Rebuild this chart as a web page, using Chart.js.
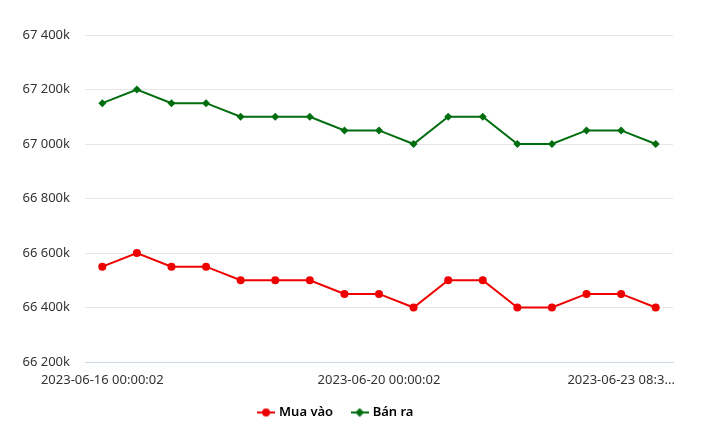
<!DOCTYPE html>
<html>
<head>
<meta charset="utf-8">
<script src="https://cdn.jsdelivr.net/npm/chart.js@4"></script>
<style>
  body { margin: 0; background: #fff; }
  #wrap { width: 720px; height: 439px; }
</style>
</head>
<body>
<div id="wrap"><canvas id="goldChart"></canvas></div>
<script>
// gia vang, don vi: nghin dong
const labels = [
    '2023-06-16 00:00:02', '2023-06-16 08:30:02', '2023-06-17 00:00:02', '2023-06-17 08:30:02',
    '2023-06-18 00:00:02', '2023-06-18 08:30:02', '2023-06-19 00:00:02', '2023-06-19 08:30:02',
    '2023-06-20 00:00:02', '2023-06-20 08:30:02', '2023-06-21 00:00:02', '2023-06-21 08:30:02',
    '2023-06-22 00:00:02', '2023-06-22 08:30:02', '2023-06-23 00:00:02', '2023-06-23 08:30:02',
    '2023-06-24 00:00:02'
];
const muaVao = [66550, 66600, 66550, 66550, 66500, 66500, 66500, 66450, 66450, 66400, 66500, 66500, 66400, 66400, 66450, 66450, 66400];
const banRa = [67150, 67200, 67150, 67150, 67100, 67100, 67100, 67050, 67050, 67000, 67100, 67100, 67000, 67000, 67050, 67050, 67000];
const yTicks = [66200, 66400, 66600, 66800, 67000, 67200, 67400];
const shownTicks = [0, 8, 15];

const RED = '#ee0000';
const GREEN = '#006d0f';

function fmtK(v) {
    return String(v).replace(/\B(?=(\d{3})+(?!\d))/g, ' ') + 'k';
}

// legend symbol: line with marker in the middle
function legendIcon(color, style) {
    const c = document.createElement('canvas');
    c.width = 18; c.height = 12;
    const g = c.getContext('2d');
    g.strokeStyle = color; g.lineWidth = 2;
    g.beginPath(); g.moveTo(0, 6); g.lineTo(18, 6); g.stroke();
    g.fillStyle = color;
    g.beginPath();
    if (style === 'circle') {
        g.arc(9, 6, 4, 0, Math.PI * 2);
    } else {
        g.moveTo(9, 1.5); g.lineTo(13.5, 6); g.lineTo(9, 10.5); g.lineTo(4.5, 6); g.closePath();
    }
    g.fill();
    return c;
}

const ctx = document.getElementById('goldChart').getContext('2d');
const goldChart = new Chart(ctx, {
    type: 'line',
    data: {
        labels: labels,
        datasets: [{
            label: 'Mua vào',
            data: muaVao,
            borderColor: RED,
            backgroundColor: RED,
            borderWidth: 2,
            pointStyle: 'circle',
            pointRadius: 4,
            pointBorderWidth: 0,
            pointHoverRadius: 5,
            tension: 0
        }, {
            label: 'Bán ra',
            data: banRa,
            borderColor: GREEN,
            backgroundColor: GREEN,
            borderWidth: 2,
            pointStyle: 'rectRot',
            pointRadius: 4,
            pointBorderWidth: 0,
            pointHoverRadius: 5,
            tension: 0
        }]
    },
    options: {
        responsive: true,
        maintainAspectRatio: false,
        animation: false,
        layout: { padding: { top: 35, right: 47, bottom: 10, left: 0 } },
        scales: {
            x: {
                offset: true,
                grid: { display: false, drawTicks: false },
                border: { color: '#ccd6eb', width: 1 },
                ticks: {
                    autoSkip: false,
                    maxRotation: 0,
                    padding: 10,
                    color: '#333',
                    font: { family: 'Noto Sans', size: 13 },
                    callback: function (val, i) {
                        if (!shownTicks.includes(i)) return '';
                        const t = labels[i];
                        return i === 15 ? t.slice(0, 15) + '...' : t;
                    }
                },
                afterFit: function (s) { s.height = 24; }
            },
            y: {
                min: 66200,
                max: 67400,
                afterBuildTicks: function (s) { s.ticks = yTicks.map(v => ({ value: v })); },
                grid: { color: '#e6e6e6', drawTicks: false },
                border: { display: false },
                ticks: {
                    padding: 15,
                    color: '#333',
                    font: { family: 'Noto Sans', size: 13 },
                    callback: function (v) { return fmtK(v); }
                },
                afterFit: function (s) { s.width = 85; }
            }
        },
        plugins: {
            legend: {
                position: 'bottom',
                labels: {
                    usePointStyle: true,
                    boxWidth: 18,
                    padding: 20,
                    color: '#111',
                    font: { family: 'Noto Sans', size: 13, weight: '600' },
                    generateLabels: function (chart) {
                        return chart.data.datasets.map((d, i) => ({
                            text: d.label,
                            fillStyle: d.borderColor,
                            strokeStyle: d.borderColor,
                            pointStyle: legendIcon(d.borderColor, d.pointStyle),
                            hidden: !chart.isDatasetVisible(i),
                            datasetIndex: i
                        }));
                    }
                }
            },
            tooltip: { enabled: true }
        }
    }
});
</script>
</body>
</html>
